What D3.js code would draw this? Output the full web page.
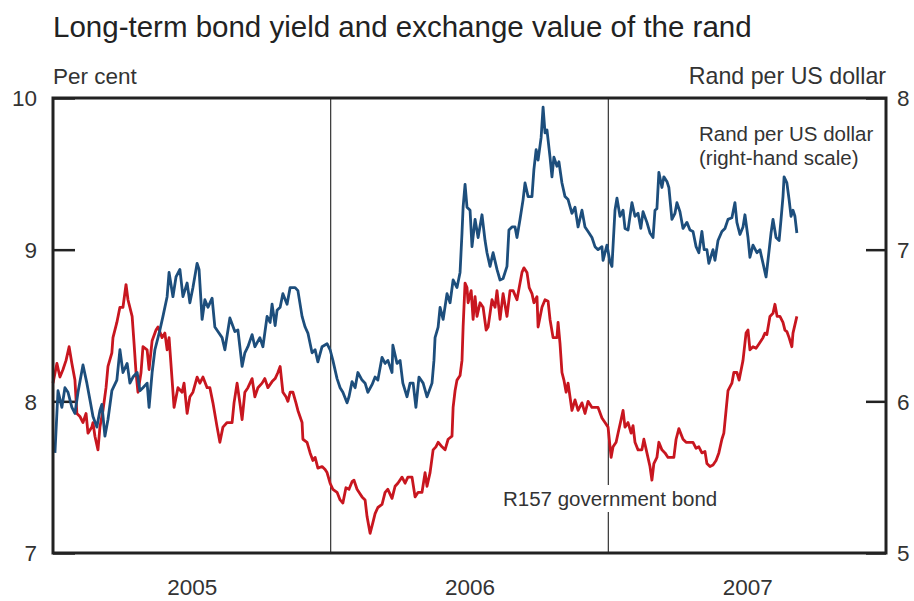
<!DOCTYPE html>
<html><head><meta charset="utf-8">
<script src="https://cdn.jsdelivr.net/npm/d3@7"></script>
<style>
html,body{margin:0;padding:0;background:#fff;}
svg text{font-family:"Liberation Sans",Arial,sans-serif;fill:#333;}
</style></head>
<body><svg id="c" width="914" height="601"></svg>
<script>
const title = "Long-term bond yield and exchange value of the rand";
const leftUnit = "Per cent";
const rightUnit = "Rand per US dollar";
const leftTicks = [7, 8, 9, 10];
const rightTicks = [5, 6, 7, 8];
const yearLabels = ["2005", "2006", "2007"];
const yearDividers = [2006, 2007];
const randLabel = ["Rand per US dollar", "(right-hand scale)"];
const bondLabel = "R157 government bond";

// Rand per US dollar (right-hand scale), time in decimal years
const randYears = [2005.007,2005.018,2005.032,2005.043,2005.054,2005.068,2005.079,2005.090,2005.108,2005.122,2005.133,2005.144,2005.158,2005.169,2005.176,2005.187,2005.198,2005.212,2005.230,2005.241,2005.252,2005.267,2005.277,2005.288,2005.303,2005.313,2005.324,2005.339,2005.346,2005.357,2005.367,2005.385,2005.396,2005.411,2005.418,2005.432,2005.443,2005.457,2005.468,2005.483,2005.493,2005.504,2005.519,2005.526,2005.537,2005.547,2005.558,2005.573,2005.583,2005.594,2005.609,2005.619,2005.637,2005.655,2005.666,2005.673,2005.681,2005.691,2005.702,2005.717,2005.727,2005.745,2005.756,2005.771,2005.782,2005.789,2005.800,2005.807,2005.818,2005.828,2005.843,2005.854,2005.872,2005.882,2005.897,2005.908,2005.918,2005.933,2005.944,2005.954,2005.969,2005.987,2005.998,2006.008,2006.023,2006.034,2006.044,2006.059,2006.066,2006.077,2006.088,2006.098,2006.113,2006.124,2006.134,2006.149,2006.160,2006.170,2006.185,2006.196,2006.206,2006.221,2006.224,2006.239,2006.250,2006.260,2006.275,2006.286,2006.297,2006.307,2006.318,2006.333,2006.347,2006.365,2006.372,2006.376,2006.387,2006.394,2006.405,2006.419,2006.430,2006.441,2006.455,2006.466,2006.473,2006.477,2006.484,2006.491,2006.502,2006.509,2006.520,2006.531,2006.545,2006.556,2006.563,2006.574,2006.585,2006.599,2006.610,2006.621,2006.635,2006.642,2006.653,2006.664,2006.671,2006.682,2006.693,2006.700,2006.711,2006.725,2006.732,2006.740,2006.747,2006.758,2006.765,2006.772,2006.779,2006.790,2006.797,2006.804,2006.815,2006.822,2006.833,2006.844,2006.855,2006.869,2006.880,2006.891,2006.905,2006.916,2006.927,2006.941,2006.952,2006.963,2006.977,2006.981,2006.995,2007.006,2007.013,2007.024,2007.031,2007.042,2007.053,2007.060,2007.071,2007.085,2007.096,2007.107,2007.117,2007.125,2007.139,2007.150,2007.161,2007.168,2007.175,2007.182,2007.193,2007.200,2007.211,2007.218,2007.229,2007.240,2007.247,2007.258,2007.269,2007.283,2007.294,2007.305,2007.316,2007.326,2007.337,2007.345,2007.355,2007.362,2007.377,2007.384,2007.395,2007.409,2007.420,2007.431,2007.445,2007.456,2007.463,2007.474,2007.485,2007.492,2007.503,2007.510,2007.521,2007.535,2007.546,2007.557,2007.568,2007.575,2007.586,2007.593,2007.604,2007.615,2007.622,2007.629,2007.633,2007.643,2007.651,2007.658,2007.665,2007.672,2007.679];
const randValues = [5.66,6.07,5.96,6.09,6.06,5.96,5.92,6.06,6.24,6.12,6.01,5.90,5.83,5.94,5.98,5.77,5.88,6.07,6.14,6.34,6.19,6.25,6.12,6.16,6.19,6.07,6.09,6.12,5.96,6.19,6.34,6.47,6.56,6.69,6.85,6.69,6.82,6.87,6.69,6.78,6.65,6.75,6.91,6.87,6.54,6.67,6.62,6.68,6.49,6.46,6.42,6.34,6.55,6.46,6.47,6.36,6.23,6.32,6.36,6.44,6.36,6.42,6.36,6.56,6.52,6.64,6.50,6.60,6.62,6.71,6.64,6.75,6.75,6.73,6.56,6.49,6.45,6.32,6.34,6.26,6.36,6.38,6.34,6.27,6.15,6.09,6.06,5.99,6.03,6.13,6.09,6.19,6.14,6.12,6.06,6.11,6.16,6.14,6.29,6.25,6.27,6.19,6.37,6.25,6.27,6.12,6.03,6.12,6.12,5.96,6.16,6.12,6.03,6.12,6.27,6.42,6.49,6.62,6.54,6.71,6.65,6.80,6.75,6.85,7.11,7.28,7.43,7.28,7.26,7.02,7.20,7.08,7.23,7.06,6.98,6.89,6.98,6.87,6.80,6.81,6.89,7.13,7.15,7.15,7.08,7.20,7.33,7.44,7.35,7.35,7.53,7.66,7.59,7.74,7.94,7.77,7.79,7.61,7.48,7.61,7.55,7.58,7.44,7.35,7.33,7.24,7.28,7.15,7.26,7.15,7.12,7.08,7.02,7.00,7.02,6.93,7.03,6.92,6.89,7.26,7.34,7.22,7.26,7.14,7.13,7.31,7.22,7.24,7.14,7.25,7.18,7.11,7.08,7.26,7.27,7.51,7.41,7.48,7.45,7.41,7.20,7.24,7.31,7.25,7.14,7.18,7.13,7.12,7.02,6.98,7.12,7.00,7.00,6.91,7.00,6.93,7.06,7.12,7.14,7.20,7.21,7.31,7.18,7.10,7.15,7.23,7.08,6.95,7.03,6.98,7.00,6.91,6.82,6.93,7.11,7.20,7.08,7.06,7.20,7.35,7.48,7.44,7.33,7.22,7.26,7.22,7.11];

// R157 government bond yield (left-hand scale, per cent)
const bondYears = [2005.000,2005.014,2005.025,2005.036,2005.047,2005.058,2005.068,2005.079,2005.086,2005.097,2005.108,2005.119,2005.126,2005.140,2005.144,2005.151,2005.162,2005.169,2005.180,2005.191,2005.198,2005.212,2005.216,2005.230,2005.241,2005.252,2005.263,2005.270,2005.285,2005.292,2005.299,2005.306,2005.317,2005.324,2005.339,2005.346,2005.357,2005.371,2005.378,2005.393,2005.403,2005.411,2005.418,2005.429,2005.436,2005.450,2005.465,2005.472,2005.483,2005.493,2005.504,2005.519,2005.529,2005.540,2005.555,2005.565,2005.576,2005.591,2005.601,2005.612,2005.627,2005.645,2005.652,2005.663,2005.673,2005.681,2005.691,2005.702,2005.717,2005.727,2005.738,2005.753,2005.763,2005.774,2005.789,2005.800,2005.810,2005.818,2005.828,2005.839,2005.846,2005.854,2005.864,2005.875,2005.882,2005.897,2005.900,2005.915,2005.926,2005.936,2005.944,2005.954,2005.969,2005.980,2005.987,2005.998,2006.008,2006.023,2006.034,2006.044,2006.055,2006.066,2006.077,2006.084,2006.095,2006.102,2006.113,2006.124,2006.131,2006.142,2006.152,2006.160,2006.170,2006.185,2006.196,2006.206,2006.221,2006.232,2006.242,2006.257,2006.268,2006.278,2006.293,2006.304,2006.315,2006.329,2006.340,2006.347,2006.358,2006.369,2006.379,2006.387,2006.401,2006.412,2006.423,2006.437,2006.441,2006.448,2006.455,2006.466,2006.473,2006.477,2006.484,2006.491,2006.495,2006.506,2006.513,2006.520,2006.527,2006.538,2006.549,2006.560,2006.567,2006.581,2006.592,2006.599,2006.610,2006.621,2006.635,2006.646,2006.657,2006.671,2006.679,2006.689,2006.696,2006.707,2006.715,2006.725,2006.732,2006.743,2006.747,2006.761,2006.772,2006.783,2006.790,2006.801,2006.815,2006.819,2006.826,2006.833,2006.840,2006.848,2006.855,2006.869,2006.880,2006.891,2006.905,2006.916,2006.927,2006.941,2006.952,2006.963,2006.977,2006.988,2006.999,2007.010,2007.017,2007.028,2007.035,2007.046,2007.053,2007.060,2007.071,2007.082,2007.089,2007.096,2007.107,2007.121,2007.128,2007.139,2007.150,2007.157,2007.164,2007.175,2007.182,2007.193,2007.204,2007.215,2007.226,2007.236,2007.244,2007.254,2007.269,2007.280,2007.290,2007.305,2007.316,2007.326,2007.337,2007.348,2007.355,2007.366,2007.377,2007.388,2007.398,2007.409,2007.416,2007.424,2007.431,2007.445,2007.452,2007.463,2007.471,2007.485,2007.496,2007.503,2007.510,2007.521,2007.532,2007.543,2007.557,2007.564,2007.571,2007.582,2007.593,2007.600,2007.608,2007.618,2007.629,2007.636,2007.643,2007.651,2007.661,2007.665,2007.679];
const bondValues = [8.12,8.25,8.16,8.21,8.27,8.36,8.25,8.14,7.92,7.90,7.86,7.92,7.79,7.83,7.86,7.77,7.68,7.83,7.94,8.09,8.23,8.32,8.42,8.52,8.62,8.62,8.77,8.67,8.56,8.38,8.19,8.06,8.19,8.36,8.34,8.21,8.40,8.47,8.49,8.42,8.45,8.34,8.42,8.14,7.96,8.09,8.06,8.12,7.92,8.03,8.06,8.16,8.12,8.16,8.09,8.09,7.99,7.83,7.73,7.83,7.86,7.86,7.99,8.12,7.99,7.88,8.06,8.09,8.15,8.03,8.09,8.12,8.15,8.09,8.13,8.15,8.19,8.23,8.06,8.03,8.00,8.06,8.06,7.99,7.94,7.86,7.75,7.73,7.66,7.61,7.63,7.56,7.57,7.55,7.53,7.46,7.42,7.40,7.35,7.33,7.43,7.42,7.47,7.48,7.42,7.40,7.37,7.35,7.24,7.13,7.20,7.26,7.30,7.32,7.40,7.42,7.36,7.44,7.46,7.50,7.46,7.50,7.50,7.37,7.40,7.40,7.53,7.44,7.53,7.68,7.70,7.73,7.70,7.68,7.75,7.77,7.96,8.07,8.14,8.17,8.27,8.49,8.78,8.75,8.65,8.73,8.54,8.69,8.56,8.65,8.62,8.47,8.49,8.67,8.62,8.73,8.54,8.71,8.56,8.73,8.73,8.67,8.75,8.85,8.88,8.85,8.75,8.71,8.65,8.69,8.49,8.62,8.67,8.66,8.54,8.42,8.42,8.52,8.38,8.19,8.14,8.06,8.12,7.94,8.01,7.94,7.99,7.92,8.00,7.96,7.96,7.96,7.89,7.86,7.83,7.63,7.70,7.73,7.79,7.88,7.94,7.83,7.86,7.79,7.84,7.73,7.68,7.68,7.75,7.66,7.57,7.48,7.59,7.63,7.73,7.68,7.66,7.63,7.63,7.63,7.75,7.82,7.75,7.73,7.73,7.73,7.69,7.70,7.66,7.67,7.59,7.57,7.58,7.61,7.66,7.75,7.79,7.94,8.07,8.12,8.19,8.19,8.14,8.27,8.45,8.47,8.34,8.36,8.35,8.38,8.42,8.45,8.44,8.56,8.58,8.64,8.56,8.56,8.52,8.47,8.46,8.42,8.36,8.45,8.56];

const svg = d3.select("#c");
const L = 53, R = 886, T = 98, B = 553;

const x = d3.scaleLinear().domain([2005, 2008]).range([L, R]);
const yL = d3.scaleLinear().domain([7, 10]).range([B, T]);
const yR = d3.scaleLinear().domain([5, 8]).range([B, T]);

// title and units
svg.append("text").attr("x", 53).attr("y", 37).attr("font-size", 29.5).style("fill", "#222").text(title);
svg.append("text").attr("x", 53).attr("y", 84).attr("font-size", 22.5).text(leftUnit);
svg.append("text").attr("x", 886).attr("y", 84).attr("font-size", 23.2).attr("text-anchor", "end").text(rightUnit);

// year dividers
svg.append("g").selectAll("line").data(yearDividers).join("line")
  .attr("x1", d => x(d)).attr("x2", d => x(d)).attr("y1", T).attr("y2", B)
  .attr("stroke", "#333").attr("stroke-width", 1.2);

// axes
const gl = svg.append("g").attr("transform", `translate(${L},0)`)
  .call(d3.axisLeft(yL).tickValues(leftTicks).tickSizeInner(-22).tickSizeOuter(0).tickPadding(16).tickFormat(d3.format("d")));
const gr = svg.append("g").attr("transform", `translate(${R},0)`)
  .call(d3.axisRight(yR).tickValues(rightTicks).tickSizeInner(-20).tickSizeOuter(0).tickPadding(11).tickFormat(d3.format("d")));
const gx = svg.append("g").attr("transform", `translate(0,${B})`)
  .call(d3.axisBottom(x).tickValues([2005.5, 2006.5, 2007.5]).tickSize(0).tickPadding(26).tickFormat((d, i) => yearLabels[i]));
[gl, gr, gx].forEach(g => {
  g.select(".domain").remove();
  g.selectAll("line").attr("stroke", "#222").attr("stroke-width", 2.5);
  g.selectAll("text").attr("font-size", 22.5).attr("font-family", "Liberation Sans, Arial, sans-serif").style("fill", "#333");
});
gl.selectAll("text").attr("dy", "0.35em");
gr.selectAll("text").attr("dy", "0.35em");
gx.selectAll("text").attr("dy", "0.71em");

// lines
const randLine = d3.line().x((d, i) => x(randYears[i])).y(d => yR(d));
const bondLine = d3.line().x((d, i) => x(bondYears[i])).y(d => yL(d));
svg.append("path").datum(bondValues).attr("d", bondLine).attr("fill", "none")
  .attr("stroke", "#c8161f").attr("stroke-width", 2.8).attr("stroke-linejoin", "round");
svg.append("path").datum(randValues).attr("d", randLine).attr("fill", "none")
  .attr("stroke", "#1d4e7c").attr("stroke-width", 2.8).attr("stroke-linejoin", "round");

// annotations
const ra = svg.append("text").attr("x", 699).attr("y", 141).attr("font-size", 20.5);
ra.selectAll("tspan").data(randLabel).join("tspan").attr("x", 699).attr("dy", (d, i) => i ? 24 : 0).text(d => d);
const bl = svg.append("g");
const bt = bl.append("text").attr("x", 503).attr("y", 506).attr("font-size", 20.5).text(bondLabel);
const bb = bt.node().getBBox();
bl.insert("rect", "text").attr("x", bb.x - 3).attr("y", bb.y - 2).attr("width", bb.width + 6).attr("height", bb.height + 4).attr("fill", "#fff");

// frame
svg.append("rect").attr("x", L).attr("y", T).attr("width", R - L).attr("height", B - T)
  .attr("fill", "none").attr("stroke", "#222").attr("stroke-width", 3);
</script></body></html>
